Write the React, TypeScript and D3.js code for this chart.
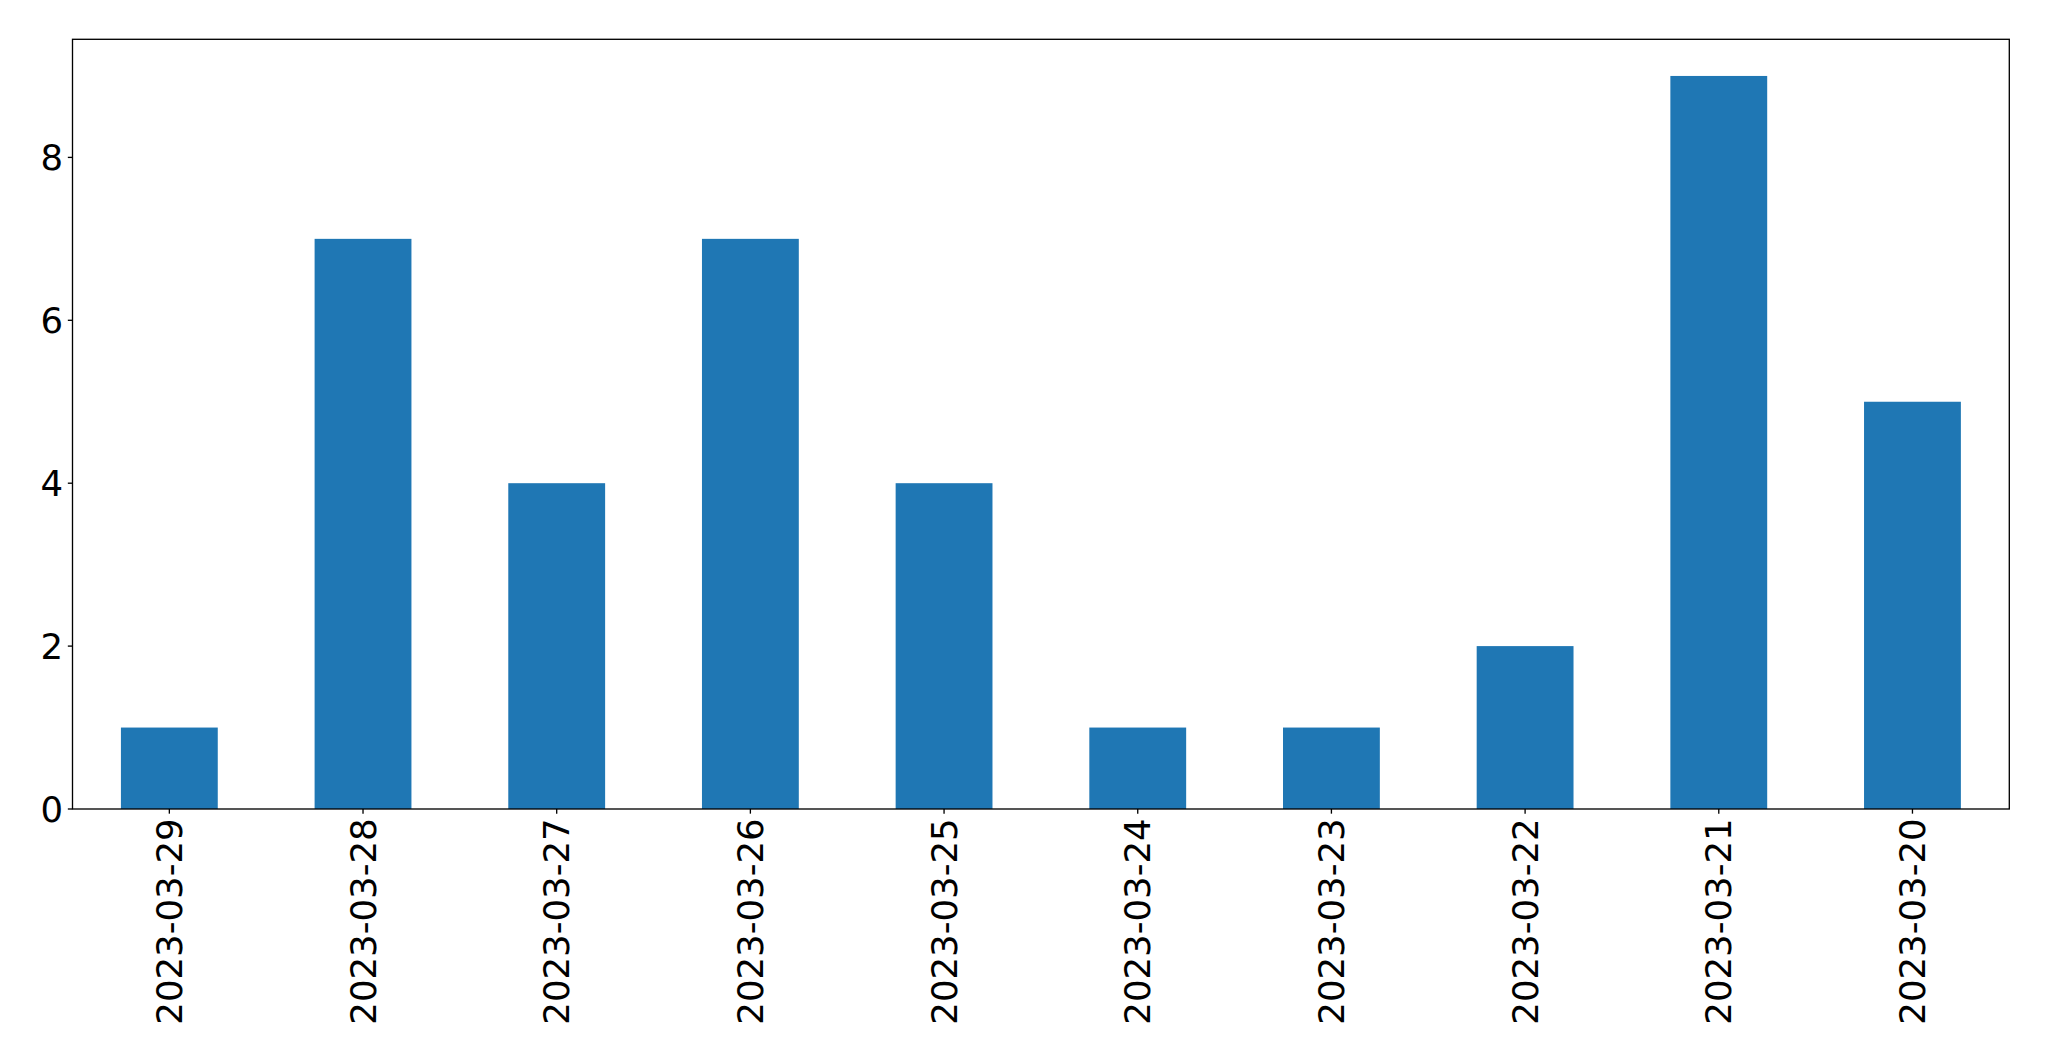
import React from "react";
import * as d3 from "d3";

const categories = ["2023-03-29","2023-03-28","2023-03-27","2023-03-26","2023-03-25","2023-03-24","2023-03-23","2023-03-22","2023-03-21","2023-03-20"];
const values = [1, 7, 4, 7, 4, 1, 1, 2, 9, 5];
const yTicks = [0, 2, 4, 6, 8];

export default function App() {
  const W = 2049, H = 1061;
  const left = 72.5, right = 2009.3, top = 39.3, bottom = 809;
  const x = d3.scaleBand<string>().domain(categories).range([left, right]).paddingInner(0.5).paddingOuter(0.25);
  const y = d3.scaleLinear().domain([0, d3.max(values)! * 1.05]).range([bottom, top]);
  const fs = 35.5;
  const tickLen = 4.67, pad = 4.67;
  return (
    <svg width={W} height={H} style={{ position: "absolute", left: 0, top: 0 }} fontFamily="DejaVu Sans">
      <rect x={0} y={0} width={W} height={H} fill="white" />
      {values.map((v, i) => (
        <rect key={i} x={x(categories[i])} y={y(v)} width={x.bandwidth()} height={y(0) - y(v)} fill="#1f77b4" />
      ))}
      <rect x={left} y={top} width={right - left} height={bottom - top} fill="none" stroke="black" strokeWidth={1.33} />
      {yTicks.map((t) => (
        <g key={t}>
          <line x1={left - tickLen} x2={left} y1={y(t)} y2={y(t)} stroke="black" strokeWidth={1.33} />
          <text x={left - tickLen - pad} y={y(t)} textAnchor="end" dominantBaseline="central" fontSize={fs}>{t}</text>
        </g>
      ))}
      {categories.map((c) => {
        const cx = x(c)! + x.bandwidth() / 2;
        const ty = bottom + tickLen + pad;
        return (
          <g key={c}>
            <line x1={cx} x2={cx} y1={bottom} y2={bottom + tickLen} stroke="black" strokeWidth={1.33} />
            <text transform={`translate(${cx},${ty}) rotate(-90)`} textAnchor="end" dominantBaseline="central" fontSize={fs}>{c}</text>
          </g>
        );
      })}
    </svg>
  );
}
